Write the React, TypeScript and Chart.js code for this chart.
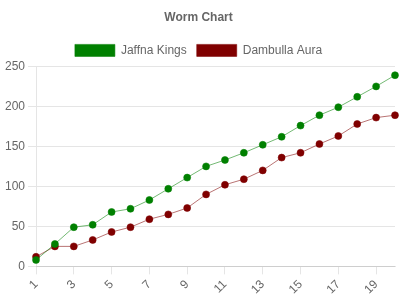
import React, { useEffect, useRef } from "react";
import { Chart, registerables } from "chart.js";

Chart.register(...registerables);

const overs = ["1","2","3","4","5","6","7","8","9","10","11","12","13","14","15","16","17","18","19","20"];
const jaffnaKings = [8, 28, 49, 52, 68, 72, 83, 97, 111, 125, 133, 142, 152, 162, 176, 189, 199, 212, 225, 239];
const dambullaAura = [12, 25, 25, 33, 43, 49, 59, 65, 73, 90, 102, 109, 120, 136, 142, 153, 163, 178, 186, 189];

export default function App() {
  const ref = useRef<HTMLCanvasElement | null>(null);
  useEffect(() => {
    if (!ref.current) return;
    Chart.defaults.font.family = "'Liberation Sans', Arial, sans-serif";
    Chart.defaults.font.size = 12;
    Chart.defaults.color = "#666";
    const chart = new Chart(ref.current, {
      type: "line",
      data: {
        labels: overs,
        datasets: [
          {
            label: "Jaffna Kings",
            data: jaffnaKings,
            backgroundColor: "#008000",
            borderColor: "rgba(0,128,0,0.55)",
            borderWidth: 1,
            pointBackgroundColor: "#008000",
            pointBorderColor: "rgba(0,128,0,0.55)",
            pointBorderWidth: 1,
            pointRadius: 3.5,
            fill: false,
            tension: 0,
          },
          {
            label: "Dambulla Aura",
            data: dambullaAura,
            backgroundColor: "#800000",
            borderColor: "rgba(128,0,0,0.55)",
            borderWidth: 1,
            pointBackgroundColor: "#800000",
            pointBorderColor: "rgba(128,0,0,0.55)",
            pointBorderWidth: 1,
            pointRadius: 3.5,
            fill: false,
            tension: 0,
          },
        ],
      },
      options: {
        animation: false,
        responsive: false,
        maintainAspectRatio: false,
        layout: { padding: { left: 2, right: 5, top: 0, bottom: 0 } },
        plugins: {
          title: {
            display: true,
            text: "Worm Chart",
            color: "#666",
            font: { size: 12, weight: "bold" },
            padding: 10,
          },
          legend: {
            labels: { boxWidth: 40, boxHeight: 12, color: "#666", font: { size: 12 } },
          },
          tooltip: { enabled: false },
        },
        scales: {
          x: {
            grid: { color: "rgba(0,0,0,0.1)", drawOnChartArea: false, drawTicks: true },
            ticks: { minRotation: 45, maxRotation: 45, autoSkip: true, color: "#666" },
          },
          y: {
            min: 0,
            max: 250,
            grid: { color: "rgba(0,0,0,0.1)" },
            ticks: { stepSize: 50, color: "#666" },
          },
        },
      },
    });
    return () => chart.destroy();
  }, []);
  return (
    <div style={{ position: "fixed", left: 0, top: 0, width: 400, height: 300, background: "#fff" }}>
      <canvas ref={ref} width={400} height={300} style={{ width: 400, height: 300 }} />
    </div>
  );
}
